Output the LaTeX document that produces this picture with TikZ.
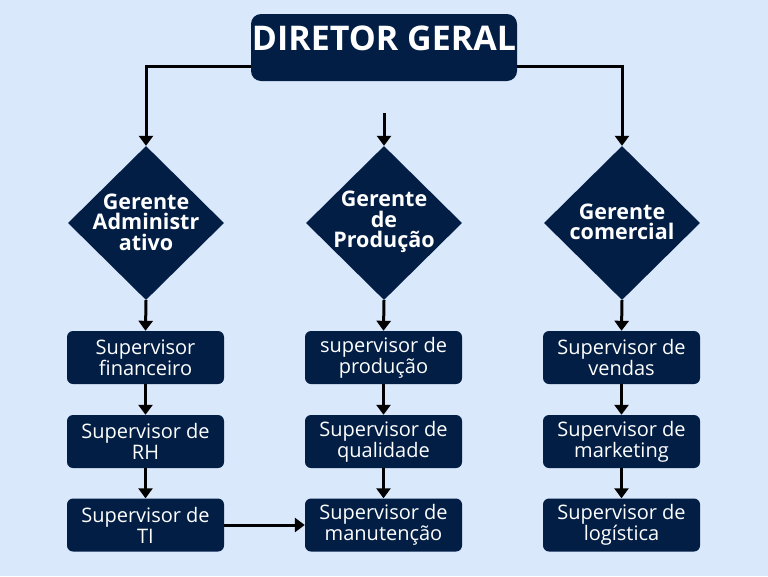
\documentclass[tikz,border=0pt]{standalone}
\usepackage{fontspec}
\setmainfont{Open Sans}
\usetikzlibrary{arrows.meta,shapes.geometric}
\definecolor{bg}{RGB}{218,232,252}
\definecolor{navy}{RGB}{2,30,69}
\begin{document}
\begin{tikzpicture}[x=1pt,y=-1pt,
 sup/.style={fill=navy, rounded corners=6pt, minimum width=157pt, minimum height=53pt, text=white, align=center, font=\fontsize{20}{21}\selectfont, inner sep=0pt},
 ger/.style={fill=navy, diamond, minimum width=156pt, minimum height=154pt, inner sep=0pt},
 gtxt/.style={text=white, font=\bfseries\fontsize{21.5}{20.5}\selectfont, align=center, inner sep=0pt},
 arr/.style={line width=3pt, -{Triangle[width=14pt,length=10pt]}}]
\fill[bg] (0,0) rectangle (768,576);
\node[fill=navy, rounded corners=10pt, minimum width=266pt, minimum height=67pt, inner sep=0pt] (dir) at (384,47.5) {};
\node[text=white, font=\bfseries\fontsize{34}{38}\selectfont, inner sep=0pt] (dirt) at (384,38) {DIRETOR GERAL};
\node[ger] (g1) at (146,223) {};
\node[ger] (g2) at (384,223) {};
\node[ger] (g3) at (622,223) {};
\node[gtxt] (t1) at (146,222) {Gerente\\Administr\\ativo};
\node[gtxt] (t2) at (384,222) {Gerente\\de\\Produção};
\node[gtxt] (t3) at (622,222) {Gerente\\comercial};
\node[sup] (a1) at (145.5,357.5) {Supervisor\\financeiro};
\node[sup] (a2) at (145.5,441.5) {Supervisor de\\RH};
\node[sup] (a3) at (145.5,525) {Supervisor de\\TI};
\node[sup] (b1) at (383.5,357.5) {supervisor de\\produção};
\node[sup] (b2) at (383.5,441.5) {Supervisor de\\qualidade};
\node[sup] (b3) at (383.5,525) {Supervisor de\\manutenção};
\node[sup] (c1) at (621.5,357.5) {Supervisor de\\vendas};
\node[sup] (c2) at (621.5,441.5) {Supervisor de\\marketing};
\node[sup] (c3) at (621.5,525) {Supervisor de\\logística};
\draw[arr] ([yshift=-18.5pt]dir.west) -| (g1.north);
\draw[arr] ([yshift=-18.5pt]dir.east) -| (g3.north);
\coordinate (m) at (384,113);
\draw[arr] (m) -- (g2.north);
\draw[arr] (g1.south) -- (a1.north);
\draw[arr] (a1.south) -- (a2.north);
\draw[arr] (a2.south) -- (a3.north);
\draw[arr] (g2.south) -- (b1.north);
\draw[arr] (b1.south) -- (b2.north);
\draw[arr] (b2.south) -- (b3.north);
\draw[arr] (g3.south) -- (c1.north);
\draw[arr] (c1.south) -- (c2.north);
\draw[arr] (c2.south) -- (c3.north);
\draw[arr] (a3.east) -- (b3.west);
\end{tikzpicture}
\end{document}
